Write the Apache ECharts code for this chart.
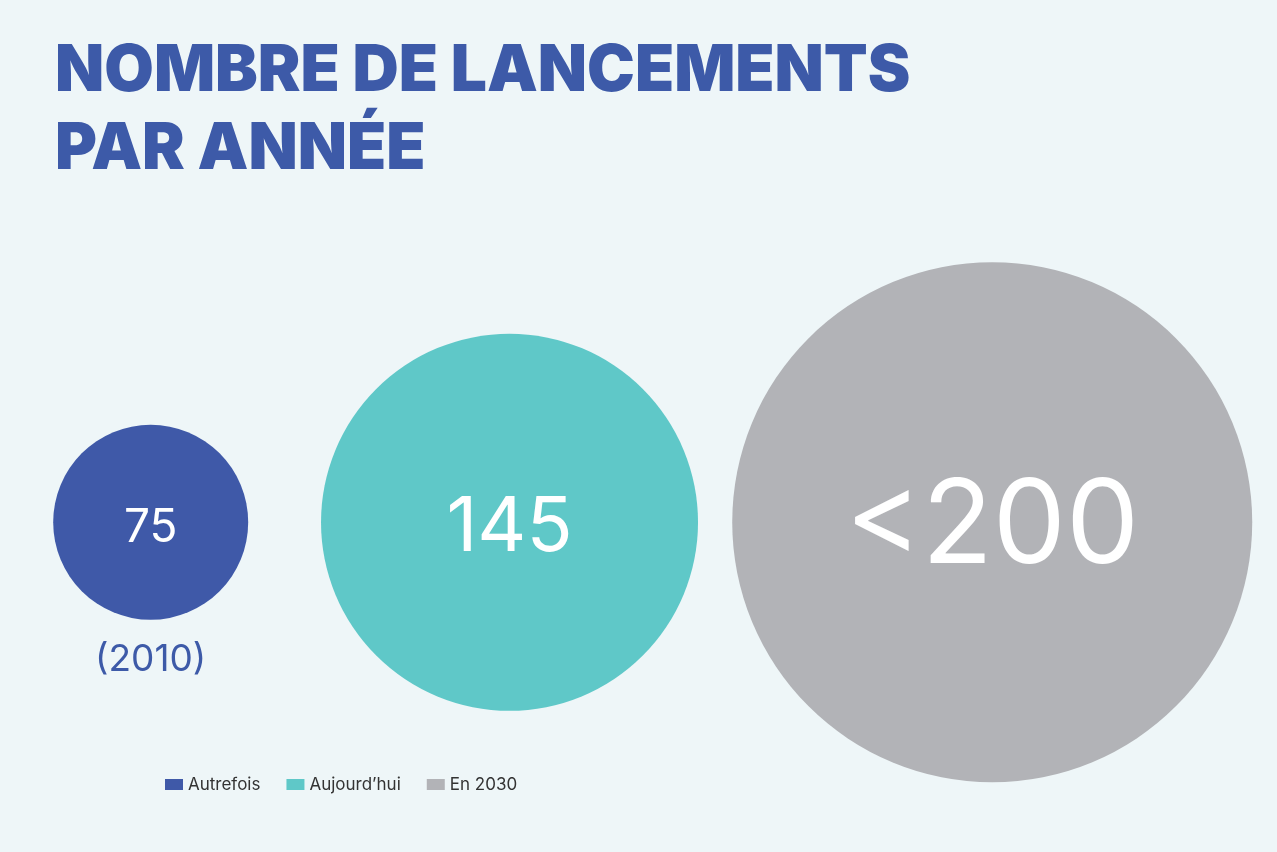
<!DOCTYPE html>
<html><head><meta charset="utf-8">
<script src="https://cdn.jsdelivr.net/npm/echarts@6/dist/echarts.min.js"></script>
<style>html,body{margin:0;padding:0;background:#eef6f8}#c{width:1277px;height:852px}</style>
</head><body><div id="c"></div>
<script>
const names = ["Autrefois", "Aujourd’hui", "En 2030"];
const values = [75, 145, 200];
const labels = ["75", "145", "<200"];
const notes = ["(2010)", "", ""];
const xPos = [11.8, 39.9, 77.7];
const colors = ["#3f59a8", "#5fc8c8", "#b2b3b7"];
const fontSizes = [46, 76, 116];

const chart = echarts.init(document.getElementById('c'));
chart.setOption({
  backgroundColor: '#eef6f8',
  title: {
    text: 'NOMBRE DE LANCEMENTS\nPAR ANNÉE',
    left: 50, top: 28,
    textStyle: {color: '#3d5aa8', fontSize: 64, fontWeight: 900, fontFamily: 'Inter', lineHeight: 78}
  },
  legend: {
    data: names, left: 160, top: 771, itemWidth: 18, itemHeight: 11, itemGap: 26,
    icon: 'rect', textStyle: {fontSize: 17, color: '#333', fontFamily: 'Inter'}
  },
  grid: {left: 0, right: 0, top: 0, bottom: 0},
  xAxis: {type: 'value', min: 0, max: 100, show: false},
  yAxis: {type: 'value', min: 0, max: 1, show: false},
  series: names.map((n, i) => ({
    name: n, type: 'scatter', silent: true,
    symbolSize: v => v[2] * 2.6,
    itemStyle: {color: colors[i], opacity: 1},
    data: [[xPos[i], 0.387, values[i]]],
    label: {show: true, position: 'inside', offset: [0, 6], formatter: labels[i], color: '#fff',
      fontSize: fontSizes[i], fontFamily: 'Inter', fontWeight: 400},
    markPoint: notes[i] ? {
      symbol: 'circle', symbolSize: 0,
      data: [{coord: [xPos[i], 0.225], value: notes[i]}],
      label: {show: true, formatter: notes[i], color: '#3d5aa8', fontSize: 37, fontFamily: 'Inter'}
    } : undefined
  }))
});
</script></body></html>
